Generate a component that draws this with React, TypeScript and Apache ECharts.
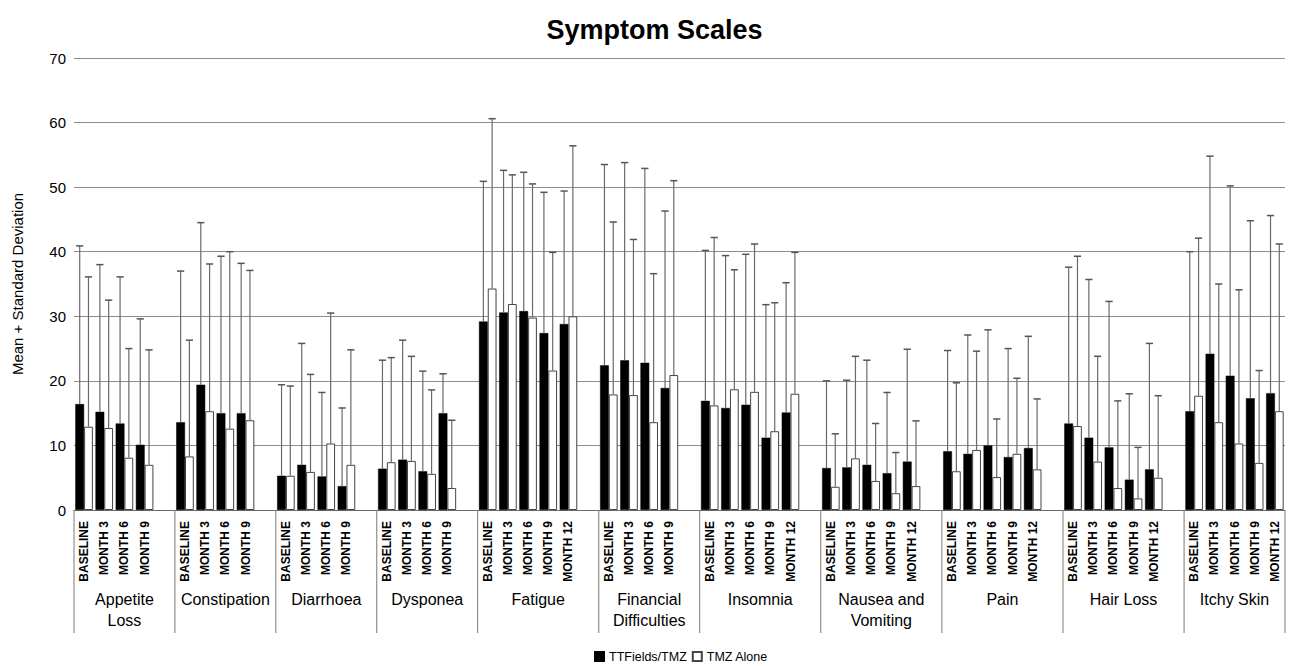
import React, { useEffect, useRef } from "react";
import * as echarts from "echarts";

const FONT = "'Liberation Sans', Arial, Helvetica, sans-serif";

const groupNames = [
  "Appetite\nLoss",
  "Constipation",
  "Diarrhoea",
  "Dysponea",
  "Fatigue",
  "Financial\nDifficulties",
  "Insomnia",
  "Nausea and\nVomiting",
  "Pain",
  "Hair Loss",
  "Itchy Skin",
];

const visits4 = ["BASELINE", "MONTH 3", "MONTH 6", "MONTH 9"];
const visits5 = ["BASELINE", "MONTH 3", "MONTH 6", "MONTH 9", "MONTH 12"];
const groupVisits = [visits4, visits4, visits4, visits4, visits5, visits4, visits5, visits5, visits5, visits5, visits5];

// TTFields/TMZ
const ttMean = [
  [16.4, 15.2, 13.4, 10.1],
  [13.6, 19.4, 15.0, 15.0],
  [5.3, 7.0, 5.2, 3.7],
  [6.4, 7.8, 6.0, 15.0],
  [29.2, 30.6, 30.8, 27.4, 28.8],
  [22.4, 23.2, 22.8, 18.9],
  [16.9, 15.8, 16.3, 11.2, 15.1],
  [6.5, 6.6, 7.0, 5.7, 7.5],
  [9.1, 8.7, 10.0, 8.2, 9.6],
  [13.4, 11.2, 9.7, 4.7, 6.3],
  [15.3, 24.2, 20.8, 17.3, 18.1],
];
const ttUpper = [
  [40.9, 38.0, 36.1, 29.6],
  [37.0, 44.5, 39.3, 38.2],
  [19.4, 25.8, 18.2, 15.8],
  [23.2, 26.3, 21.5, 21.1],
  [50.9, 52.6, 52.3, 49.2, 49.4],
  [53.5, 53.8, 52.9, 46.3],
  [40.2, 39.4, 39.6, 31.8, 35.2],
  [20.0, 20.1, 23.2, 18.2, 24.9],
  [24.7, 27.1, 27.9, 25.0, 26.9],
  [37.6, 35.7, 32.3, 18.0, 25.8],
  [40.0, 54.8, 50.2, 44.8, 45.6],
];

// TMZ Alone
const tmzMean = [
  [12.9, 12.7, 8.1, 7.0],
  [8.3, 15.3, 12.6, 13.9],
  [5.3, 5.9, 10.3, 7.0],
  [7.4, 7.6, 5.6, 3.4],
  [34.3, 31.9, 29.8, 21.6, 30.0],
  [17.9, 17.8, 13.6, 20.9],
  [16.2, 18.7, 18.3, 12.2, 18.0],
  [3.6, 8.0, 4.5, 2.6, 3.7],
  [6.0, 9.3, 5.1, 8.7, 6.3],
  [13.0, 7.5, 3.4, 1.8, 5.0],
  [17.7, 13.6, 10.3, 7.3, 15.3],
];
const tmzUpper = [
  [36.1, 32.5, 25.0, 24.8],
  [26.3, 38.1, 40.0, 37.1],
  [19.2, 21.0, 30.5, 24.8],
  [23.6, 23.8, 18.6, 13.9],
  [60.6, 51.9, 50.5, 39.9, 56.4],
  [44.6, 41.9, 36.6, 51.0],
  [42.2, 37.2, 41.2, 32.1, 39.9],
  [11.8, 23.8, 13.4, 8.9, 13.8],
  [19.7, 24.6, 14.1, 20.4, 17.2],
  [39.3, 23.8, 16.9, 9.7, 17.7],
  [42.1, 35.0, 34.1, 21.6, 41.2],
];

const yTicks = [0, 10, 20, 30, 40, 50, 60, 70];
const seriesNames = ["TTFields/TMZ", "TMZ Alone"];

const CAT_GAP = 0.13;

export default function App() {
  const ref = useRef<HTMLDivElement>(null);

  useEffect(() => {
    document.body.style.margin = "0";
    if (!ref.current) return;
    const chart = echarts.init(ref.current, undefined, { renderer: "svg" });

    const categories: string[] = [];
    const ttBars: any[] = [];
    const tmzBars: any[] = [];
    const ttErr: number[][] = [];
    const tmzErr: number[][] = [];
    const groupSpans: number[][] = [];
    groupNames.forEach((g, gi) => {
      const start = categories.length;
      groupVisits[gi].forEach((v, vi) => {
        const idx = categories.length;
        categories.push(v);
        ttBars.push(ttMean[gi][vi]);
        tmzBars.push(tmzMean[gi][vi]);
        ttErr.push([idx, ttMean[gi][vi], ttUpper[gi][vi]]);
        tmzErr.push([idx, tmzMean[gi][vi], tmzUpper[gi][vi]]);
      });
      if (gi < groupNames.length - 1) {
        categories.push("");
        ttBars.push("-");
        tmzBars.push("-");
      }
      groupSpans.push([start, 0, categories.length - 1, gi]);
    });

    const errRender = (side: number) => (params: any, api: any) => {
      const idx = api.value(0);
      const mean = api.value(1);
      const up = api.value(2);
      const band = api.size([1, 0])[0];
      const off = ((band * (1 - CAT_GAP)) / 4) * side;
      const p0 = api.coord([idx, mean]);
      const p1 = api.coord([idx, up]);
      const x = p0[0] + off;
      return {
        type: "group",
        children: [
          { type: "line", shape: { x1: x, y1: p0[1], x2: x, y2: p1[1] }, style: { stroke: "#6a6a6a", lineWidth: 1.2 } },
          { type: "line", shape: { x1: x - 3.6, y1: p1[1], x2: x + 3.6, y2: p1[1] }, style: { stroke: "#555", lineWidth: 1.5 } },
        ],
      };
    };

    const groupRender = (params: any, api: any) => {
      const s = api.value(0);
      const e = api.value(2);
      const gi = api.value(3);
      const band = api.size([1, 0])[0];
      const ps = api.coord([s, 0]);
      const pe = api.coord([e, 0]);
      const left = ps[0] - band / 2;
      const right = pe[0] + band / 2;
      const y0 = ps[1];
      const children: any[] = [
        { type: "line", shape: { x1: left, y1: y0, x2: left, y2: y0 + 123 }, style: { stroke: "#7a7a7a", lineWidth: 1 } },
        {
          type: "text",
          x: (left + right) / 2,
          y: y0 + 79,
          style: {
            text: groupNames[gi],
            fontSize: 16,
            fontFamily: FONT,
            fill: "#000",
            align: "center",
            verticalAlign: "top",
            lineHeight: 21,
          },
        },
      ];
      if (gi === groupNames.length - 1) {
        children.push({ type: "line", shape: { x1: right, y1: y0, x2: right, y2: y0 + 123 }, style: { stroke: "#7a7a7a", lineWidth: 1 } });
      }
      return { type: "group", children };
    };

    chart.setOption({
      animation: false,
      backgroundColor: "#fff",
      textStyle: { fontFamily: FONT },
      title: {
        text: "Symptom Scales",
        left: "center",
        top: 11,
        textStyle: { fontSize: 27, fontWeight: "bold", color: "#000", fontFamily: FONT },
      },
      legend: {
        data: seriesNames,
        left: 594,
        top: 650,
        padding: 0,
        itemWidth: 9,
        itemHeight: 9,
        itemGap: 5,
        icon: "rect",
        textStyle: { fontSize: 12.5, color: "#000", fontFamily: FONT },
      },
      grid: { left: 74, right: 24, top: 58, bottom: 156, containLabel: false },
      xAxis: {
        type: "category",
        data: categories,
        axisLine: { show: true, lineStyle: { color: "#6a6a6a", width: 1 } },
        axisTick: { show: false },
        axisLabel: {
          interval: 0,
          rotate: 90,
          fontSize: 12,
          fontWeight: "bold",
          color: "#000",
          margin: 11,
          fontFamily: FONT,
        },
        splitLine: { show: false },
      },
      yAxis: {
        type: "value",
        min: yTicks[0],
        max: yTicks[yTicks.length - 1],
        interval: 10,
        name: "Mean + Standard Deviation",
        nameLocation: "middle",
        nameGap: 49,
        nameTextStyle: { fontSize: 15, color: "#000", fontFamily: FONT },
        axisLine: { show: false },
        axisTick: { show: false },
        axisLabel: { fontSize: 15, color: "#000", margin: 8, fontFamily: FONT },
        splitLine: { lineStyle: { color: "#8c8c8c", width: 1 } },
      },
      series: [
        {
          name: seriesNames[0],
          type: "bar",
          data: ttBars,
          barGap: "0%",
          barCategoryGap: CAT_GAP * 100 + "%",
          itemStyle: { color: "#000", borderColor: "#000", borderWidth: 0.5 },
        },
        {
          name: seriesNames[1],
          type: "bar",
          data: tmzBars,
          barGap: "0%",
          barCategoryGap: CAT_GAP * 100 + "%",
          itemStyle: { color: "#fff", borderColor: "#444", borderWidth: 1 },
        },
        {
          name: "err1",
          type: "custom",
          data: ttErr,
          renderItem: errRender(-1),
          z: 5,
          silent: true,
        },
        {
          name: "err2",
          type: "custom",
          data: tmzErr,
          renderItem: errRender(1),
          z: 5,
          silent: true,
        },
        {
          name: "groups",
          type: "custom",
          data: groupSpans,
          renderItem: groupRender,
          clip: false,
          z: 5,
          silent: true,
        },
      ],
    });

    return () => chart.dispose();
  }, []);

  return <div ref={ref} style={{ width: 1309, height: 666 }} />;
}
